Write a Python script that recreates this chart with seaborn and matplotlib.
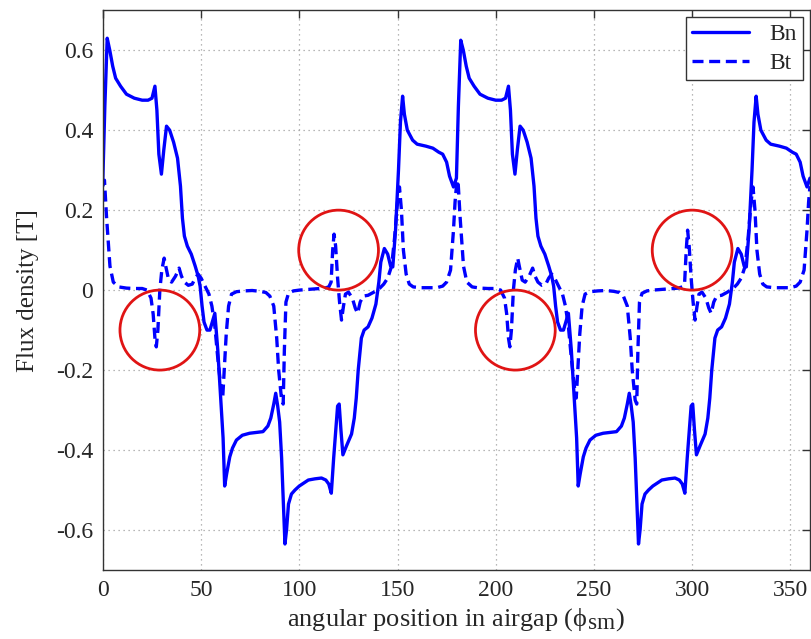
import pandas as pd
import matplotlib
matplotlib.use('Agg')
import matplotlib.pyplot as plt
import matplotlib._mathtext as mathtext_internal
import seaborn as sns
from matplotlib.patches import Ellipse
from matplotlib.ticker import FuncFormatter

# Normal flux density Bn
bn_angle = [0, 1.0, 2.2, 3.5, 5, 6.5, 9, 12, 16, 20, 23, 25, 26.5, 27.5, 28.5, 29.8, 31, 32.4, 34, 36,
            38, 39.5, 40.5, 41.5, 43, 45, 47, 48.5, 49.5, 50.5, 51.5, 53, 54.5, 56, 57, 58.5, 60, 61.2, 62, 63,
            64.6, 66, 68, 71, 74.7, 78, 81.5, 84, 85.5, 87, 88, 89, 90, 91, 92, 92.7, 93.5, 94.5, 96, 97.8,
            100, 104.6, 108, 111.3, 113.5, 115, 116.3, 117.5, 119.5, 120.3, 121.2, 122.2, 124, 126.6, 128, 129, 130, 131.6, 133, 135,
            137, 139, 140.5, 141.5, 143.3, 145, 146.5, 147.6, 149, 150.5, 151.5, 152.6, 153.5, 155, 157.7, 160, 164.5, 168, 171, 173,
            175, 176.5, 178.5,
            180, 181.0, 182.2, 183.5, 185, 186.5, 189, 192, 196, 200, 203, 205, 206.5, 207.5, 208.5, 209.8, 211, 212.4, 214, 216,
            218, 219.5, 220.5, 221.5, 223, 225, 227, 228.5, 229.5, 230.5, 231.5, 233, 234.5, 236, 237, 238.5, 240, 241.2, 242, 243,
            244.6, 246, 248, 251, 254.7, 258, 261.5, 264, 265.5, 267, 268, 269, 270, 271, 272, 272.7, 273.5, 274.5, 276, 277.8,
            280, 284.6, 288, 291.3, 293.5, 295, 296.3, 297.5, 299.5, 300.3, 301.2, 302.2, 304, 306.6, 308, 309, 310, 311.6, 313, 315,
            317, 319, 320.5, 321.5, 323.3, 325, 326.5, 327.6, 329, 330.5, 331.5, 332.6, 333.5, 335, 337.7, 340, 344.5, 348, 351, 353,
            355, 356.5, 358.5, 360]
bn = [0.28, 0.46, 0.63, 0.60, 0.56, 0.53, 0.51, 0.49, 0.48, 0.475, 0.475, 0.48, 0.51, 0.45, 0.34, 0.29, 0.35, 0.41, 0.40, 0.37,
      0.33, 0.26, 0.18, 0.135, 0.11, 0.09, 0.06, 0.035, 0.01, -0.04, -0.08, -0.10, -0.10, -0.075, -0.058, -0.15, -0.27, -0.37, -0.49, -0.46,
      -0.417, -0.395, -0.375, -0.363, -0.358, -0.356, -0.354, -0.34, -0.32, -0.285, -0.258, -0.29, -0.33, -0.42, -0.55, -0.635, -0.60, -0.535, -0.51, -0.50,
      -0.49, -0.475, -0.472, -0.47, -0.475, -0.485, -0.508, -0.42, -0.29, -0.285, -0.35, -0.412, -0.39, -0.36, -0.32, -0.27, -0.20, -0.12, -0.10, -0.092,
      -0.07, -0.035, 0.02, 0.07, 0.104, 0.09, 0.06, 0.058, 0.15, 0.30, 0.42, 0.485, 0.44, 0.40, 0.375, 0.365, 0.36, 0.355, 0.345, 0.34,
      0.32, 0.285, 0.258,
      0.28, 0.46, 0.625, 0.60, 0.56, 0.53, 0.51, 0.49, 0.48, 0.475, 0.475, 0.48, 0.51, 0.45, 0.34, 0.29, 0.35, 0.41, 0.40, 0.37,
      0.33, 0.26, 0.18, 0.135, 0.11, 0.09, 0.06, 0.035, 0.01, -0.04, -0.08, -0.10, -0.10, -0.075, -0.058, -0.15, -0.27, -0.37, -0.49, -0.46,
      -0.417, -0.395, -0.375, -0.363, -0.358, -0.356, -0.354, -0.34, -0.32, -0.285, -0.258, -0.29, -0.33, -0.42, -0.55, -0.635, -0.60, -0.535, -0.51, -0.50,
      -0.49, -0.475, -0.472, -0.47, -0.475, -0.485, -0.508, -0.42, -0.29, -0.285, -0.35, -0.412, -0.39, -0.36, -0.32, -0.27, -0.20, -0.12, -0.10, -0.092,
      -0.07, -0.035, 0.02, 0.07, 0.104, 0.09, 0.06, 0.058, 0.15, 0.30, 0.42, 0.485, 0.44, 0.40, 0.375, 0.365, 0.36, 0.355, 0.345, 0.34,
      0.32, 0.285, 0.258, 0.28]

# Tangential flux density Bt
bt_angle = [0, 0.8, 1.9, 3.0, 3.6, 5.3, 8, 12, 16, 20, 22.5, 24.5, 25.6, 26.5, 27.2, 28, 29, 30, 31.2, 32,
            33.5, 35, 37, 38.8, 40, 41.5, 43.5, 45.5, 47, 48.5, 50, 52, 54, 55.5, 57, 58.5, 60, 61, 61.8, 62.8,
            64, 65.5, 68, 72, 76, 80, 83, 85, 87, 88.5, 89.5, 91, 91.8, 92.4, 93.2, 94.5, 97, 100, 105, 110,
            113, 115, 116.2, 117, 117.7, 118.5, 119.5, 120.5, 121.5, 122.5, 123.5, 125, 127, 128.5, 129.7, 131, 132.5, 135, 138, 141,
            143, 145, 147, 148.5, 150, 151, 152, 153, 154.4, 156, 158, 162, 166, 170, 173, 175, 177, 178.5, 179.3,
            180, 180.8, 181.9, 183.0, 183.6, 185.3, 188, 192, 196, 200, 202.5, 204.5, 205.6, 206.5, 207.2, 208, 209, 210, 211.2, 212,
            213.5, 215, 217, 218.8, 220, 221.5, 223.5, 225.5, 227, 228.5, 230, 232, 234, 235.5, 237, 238.5, 240, 241, 241.8, 242.8,
            244, 245.5, 248, 252, 256, 260, 263, 265, 267, 268.5, 269.5, 271, 271.8, 272.4, 273.2, 274.5, 277, 280, 285, 290,
            293, 295, 296.2, 297, 297.7, 298.5, 299.5, 300.5, 301.5, 302.5, 303.5, 305, 307, 308.5, 309.7, 311, 312.5, 315, 318, 321,
            323, 325, 327, 328.5, 330, 331, 332, 333, 334.4, 336, 338, 342, 346, 350, 353, 355, 357, 358.5, 359.3, 360]
bt = [0.26, 0.275, 0.18, 0.10, 0.06, 0.02, 0.008, 0.005, 0.004, 0.004, 0.0, -0.02, -0.06, -0.12, -0.142, -0.10, 0.0, 0.05, 0.08, 0.06,
      0.025, 0.02, 0.035, 0.055, 0.035, 0.02, 0.012, 0.015, 0.03, 0.04, 0.03, 0.01, -0.01, -0.04, -0.09, -0.17, -0.24, -0.27, -0.2, -0.11,
      -0.04, -0.01, -0.004, -0.002, -0.001, -0.003, -0.006, -0.015, -0.04, -0.12, -0.2, -0.275, -0.285, -0.15, -0.03, -0.008, -0.002, 0.0, 0.002, 0.004,
      0.005, 0.008, 0.02, 0.10, 0.14, 0.11, 0.03, -0.03, -0.075, -0.04, -0.01, -0.005, -0.02, -0.045, -0.058, -0.03, -0.015, -0.013, -0.005, 0.005,
      0.015, 0.03, 0.06, 0.13, 0.22, 0.258, 0.20, 0.1, 0.04, 0.015, 0.008, 0.006, 0.006, 0.006, 0.01, 0.02, 0.05, 0.15, 0.22,
      0.26, 0.275, 0.18, 0.10, 0.06, 0.02, 0.008, 0.005, 0.004, 0.004, 0.0, -0.02, -0.06, -0.12, -0.142, -0.10, 0.0, 0.05, 0.08, 0.06,
      0.025, 0.02, 0.035, 0.055, 0.035, 0.02, 0.012, 0.015, 0.03, 0.04, 0.03, 0.01, -0.01, -0.04, -0.09, -0.17, -0.24, -0.27, -0.2, -0.11,
      -0.04, -0.01, -0.004, -0.002, -0.001, -0.003, -0.006, -0.015, -0.04, -0.12, -0.2, -0.275, -0.285, -0.15, -0.03, -0.008, -0.002, 0.0, 0.002, 0.004,
      0.005, 0.008, 0.02, 0.10, 0.15, 0.11, 0.03, -0.03, -0.075, -0.04, -0.01, -0.005, -0.02, -0.045, -0.058, -0.03, -0.015, -0.013, -0.005, 0.005,
      0.015, 0.03, 0.06, 0.13, 0.22, 0.258, 0.20, 0.1, 0.04, 0.015, 0.008, 0.006, 0.006, 0.006, 0.01, 0.02, 0.05, 0.15, 0.22, 0.26]

# red circles marking the Bt spikes
circle_x = [29, 120, 210, 300]
circle_y = [-0.1, 0.1, -0.1, 0.1]

x_ticks = [0, 50, 100, 150, 200, 250, 300, 350]
y_ticks = [-0.6, -0.4, -0.2, 0, 0.2, 0.4, 0.6]

sns.set_style('white')
plt.rcParams['font.family'] = ['Liberation Serif', 'DejaVu Serif']
plt.rcParams['mathtext.fontset'] = 'stix'
mathtext_internal.SHRINK_FACTOR = 0.88  # subscript in the original is nearly full size

df_bn = pd.DataFrame({'angle': bn_angle, 'Bn': bn})
df_bt = pd.DataFrame({'angle': bt_angle, 'Bt': bt})

fig = plt.figure(figsize=(8.12, 6.39), dpi=100)
ax = fig.add_axes([0.1267, 0.108, 0.8708, 0.876])

sns.lineplot(data=df_bn, x='angle', y='Bn', ax=ax, color='#0000ff', linewidth=2.4, label='Bn', sort=False)
sns.lineplot(data=df_bt, x='angle', y='Bt', ax=ax, color='#0000ff', linewidth=2.4, label='Bt', sort=False,
             linestyle=(0, (3.3, 1.7)))

for cx, cy in zip(circle_x, circle_y):
    ax.add_patch(Ellipse((cx, cy), width=40.6, height=0.2, fill=False,
                         edgecolor='#e01414', linewidth=2.0, zorder=4))

ax.set_xlim(0, 360)
ax.set_ylim(-0.7, 0.7)
ax.set_xticks(x_ticks)
ax.set_yticks(y_ticks)
ax.yaxis.set_major_formatter(FuncFormatter(lambda v, p: '0' if abs(v) < 1e-9 else f'{v:.1f}'))
ax.grid(True, linestyle=(0, (1, 3)), color='#a0a0a0', linewidth=0.9)
ax.tick_params(direction='in', top=True, right=True, length=6, width=1, labelsize=17,
               color='#333333', pad=7)
for s in ax.spines.values():
    s.set_color('#333333')
    s.set_linewidth(1.0)

ax.set_xlabel('angular position in airgap (ϕ$_\\mathregular{sm}$)', fontsize=19, labelpad=4)
ax.set_ylabel('Flux density [T]', fontsize=18, labelpad=12)

leg = ax.legend(loc='upper right', fontsize=17, frameon=True, fancybox=False, framealpha=1,
                edgecolor='#333333', borderaxespad=0.3, handlelength=2.4, handletextpad=0.85,
                labelspacing=0.3, borderpad=0.27)
leg.get_frame().set_linewidth(1.0)

fig.savefig('out.png', dpi=100)
